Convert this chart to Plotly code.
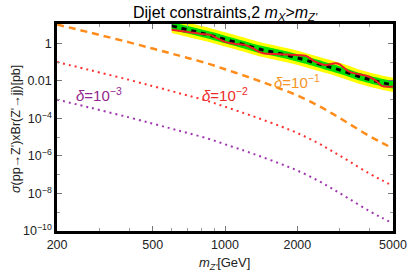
import math
import plotly.graph_objects as go

# ---- data ----
mass_delta = [200, 250, 300, 400, 500, 600, 700, 850, 1000, 1200, 1400, 1700,
              2000, 2400, 2800, 3300, 4000, 4500, 5000]
sigma_delta_1 = [10, 5.01, 2.82, 1.12, 0.525, 0.282, 0.166, 0.0832, 0.0417, 0.0191,
                 0.00955, 0.00380, 0.00166, 5.37e-4, 1.78e-4, 5.01e-5, 1.12e-5,
                 5.01e-6, 2.51e-6]
sigma_delta_2 = [0.10, 0.0501, 0.0282, 0.0112, 0.00525, 0.00282, 0.00166, 8.32e-4,
                 4.17e-4, 1.91e-4, 9.55e-5, 3.80e-5, 1.66e-5, 5.37e-6, 1.78e-6,
                 5.01e-7, 1.12e-7, 5.01e-8, 2.51e-8]
sigma_delta_3 = [1.0e-3, 5.01e-4, 2.82e-4, 1.12e-4, 5.25e-5, 2.82e-5, 1.66e-5,
                 8.32e-6, 4.17e-6, 1.91e-6, 9.55e-7, 3.80e-7, 1.66e-7, 5.37e-8,
                 1.78e-8, 5.01e-9, 1.12e-9, 5.01e-10, 2.51e-10]

mass_lim = [600, 700, 800, 900, 1000, 1200, 1400, 1600, 1900, 2200, 2600, 3000,
            3600, 4000, 4600, 5000]
expected = [8.51, 5.25, 3.47, 2.34, 1.62, 0.851, 0.479, 0.331, 0.200, 0.120, 0.0646,
            0.0380, 0.0170, 0.0117, 0.00759, 0.00603]
green_hi = [13.5, 8.32, 5.50, 3.72, 2.57, 1.35, 0.759, 0.525, 0.316, 0.191, 0.102,
            0.0603, 0.0269, 0.0186, 0.0120, 0.00955]
green_lo = [5.37, 3.31, 2.19, 1.48, 1.02, 0.537, 0.302, 0.209, 0.126, 0.0759,
            0.0407, 0.0240, 0.0107, 0.00741, 0.00479, 0.00380]
yellow_hi = [20.0, 12.6, 8.32, 5.62, 3.89, 2.04, 1.15, 0.794, 0.479, 0.288, 0.155,
             0.0912, 0.0407, 0.0282, 0.0182, 0.0145]
yellow_lo = [3.55, 2.19, 1.45, 0.977, 0.676, 0.355, 0.200, 0.138, 0.0832, 0.0501,
             0.0269, 0.0158, 0.00708, 0.00490, 0.00316, 0.00251]

mass_obs = [600, 700, 800, 870, 925, 1000, 1100, 1200, 1300, 1430, 1700, 2000, 2170,
            2370, 2617, 2880, 3000, 3270, 3600, 3960, 4300, 4490, 5000]
observed = [5.25, 3.98, 3.16, 2.82, 1.91, 1.20, 0.933, 0.832, 0.562, 0.302, 0.263,
            0.234, 0.214, 0.107, 0.0708, 0.0871, 0.0759, 0.0316, 0.0224, 0.0170,
            0.00891, 0.00537, 0.00501]

x_tickvals = [200, 500, 1000, 2000, 5000]
x_ticktext = ["200", "500", "1000", "2000", "5000"]
x_minor = [300, 400, 600, 700, 800, 900, 3000, 4000]
y_tickvals = [1, 1e-2, 1e-4, 1e-6, 1e-8, 1e-10]
y_ticktext = ["1", "0.01", "10<sup>−4</sup>", "10<sup>−6</sup>", "10<sup>−8</sup>",
              "10<sup>−10</sup>"]
y_minor = [10, 0.1, 1e-3, 1e-5, 1e-7, 1e-9]

labels = [("<i>δ</i>=10<sup>−1</sup>", 2000, -2.05, "#F7931E"),
          ("<i>δ</i>=10<sup>−2</sup>", 1002, -2.75, "#EE2B2B"),
          ("<i>δ</i>=10<sup>−3</sup>", 299, -2.72, "#92278F")]

FONT = "Liberation Sans, Arial, sans-serif"

fig = go.Figure()
# yellow band
fig.add_trace(go.Scatter(x=mass_lim, y=yellow_lo, mode="lines", line=dict(width=0, color="#FFFF00"),
                         line_shape="spline", showlegend=False, hoverinfo="skip"))
fig.add_trace(go.Scatter(x=mass_lim, y=yellow_hi, mode="lines", line=dict(width=0, color="#FFFF00"),
                         line_shape="spline", fill="tonexty", fillcolor="#FFFF00",
                         showlegend=False, hoverinfo="skip"))
# green band
fig.add_trace(go.Scatter(x=mass_lim, y=green_lo, mode="lines", line=dict(width=0, color="#00E000"),
                         line_shape="spline", showlegend=False, hoverinfo="skip"))
fig.add_trace(go.Scatter(x=mass_lim, y=green_hi, mode="lines", line=dict(width=0, color="#00E000"),
                         line_shape="spline", fill="tonexty", fillcolor="#00E000",
                         showlegend=False, hoverinfo="skip"))
# expected
fig.add_trace(go.Scatter(x=mass_lim, y=expected, mode="lines", line_shape="spline",
                         line=dict(color="black", width=3, dash="5px,5px"), showlegend=False))
# observed
fig.add_trace(go.Scatter(x=mass_obs, y=observed, mode="lines", line_shape="spline",
                         line=dict(color="#EE1C25", width=2), showlegend=False))
# delta curves
fig.add_trace(go.Scatter(x=mass_delta, y=sigma_delta_1, mode="lines", line_shape="spline",
                         line=dict(color="#FF8C1A", width=2.5, dash="7px,5px"), showlegend=False))
fig.add_trace(go.Scatter(x=mass_delta, y=sigma_delta_2, mode="lines", line_shape="spline",
                         line=dict(color="#FF3030", width=2, dash="2px,4px"), showlegend=False))
fig.add_trace(go.Scatter(x=mass_delta, y=sigma_delta_3, mode="lines", line_shape="spline",
                         line=dict(color="#A035B0", width=2, dash="2px,4px"), showlegend=False))

for txt, xm, ylog, col in labels:
    fig.add_annotation(x=math.log10(xm), y=ylog, xref="x", yref="y", text=txt,
                       showarrow=False, font=dict(family=FONT, size=15, color=col))

# axis titles as annotations (precise placement)
fig.add_annotation(x=(16 - 57) / 336, y=(231 - 129) / 207, xref="paper", yref="paper",
                   text="<i>σ</i>(pp→Z')xBr(Z'→jj)[pb]", textangle=-90, showarrow=False,
                   xanchor="center", yanchor="middle",
                   font=dict(family=FONT, size=12.5, color="#222"))
fig.add_annotation(x=(224 - 57) / 336, y=(231 - 263) / 207, xref="paper", yref="paper",
                   text="<i>m</i><sub><i>Z'</i></sub>[GeV]", showarrow=False,
                   xanchor="center", yanchor="middle",
                   font=dict(family=FONT, size=13, color="#222"))

fig.update_layout(
    width=409, height=271,
    margin=dict(l=57, r=16, t=24, b=40, autoexpand=False),
    paper_bgcolor="white", plot_bgcolor="white",
    title=dict(text="Dijet constraints,2 <i>m</i><sub><i>X</i></sub>&gt;<i>m</i><sub><i>Z'</i></sub>",
               x=0.5, xref="paper", xanchor="center", y=1 - 12 / 271, yref="container",
               yanchor="middle", automargin=False,
               font=dict(family=FONT, size=16, color="black")),
    font=dict(family=FONT, color="#222"),
)
fig.update_xaxes(type="log", range=[2.3008, 3.6992], showgrid=False, zeroline=False,
                 automargin=False,
                 showline=True, linecolor="black", linewidth=2.5, mirror="ticks",
                 ticks="inside", ticklen=5, tickcolor="#777", tickwidth=1,
                 tickvals=x_tickvals, ticktext=x_ticktext,
                 tickfont=dict(family=FONT, size=12.5, color="#222"),
                 minor=dict(tickvals=x_minor, ticks="inside", ticklen=3, tickcolor="#999", showgrid=False))
fig.update_yaxes(type="log", range=[-10.002, 1.03], showgrid=False, zeroline=False,
                 automargin=False,
                 showline=True, linecolor="black", linewidth=2.5, mirror="ticks",
                 ticks="inside", ticklen=5, tickcolor="#777", tickwidth=1,
                 tickvals=y_tickvals, ticktext=y_ticktext,
                 tickfont=dict(family=FONT, size=12.5, color="#222"),
                 minor=dict(tickvals=y_minor, ticks="inside", ticklen=3, tickcolor="#999", showgrid=False))

fig.write_html("out.html", config={"displayModeBar": False},
               post_script="document.body.style.margin='0';document.body.style.padding='0';"
                           "document.documentElement.style.overflow='hidden';")
